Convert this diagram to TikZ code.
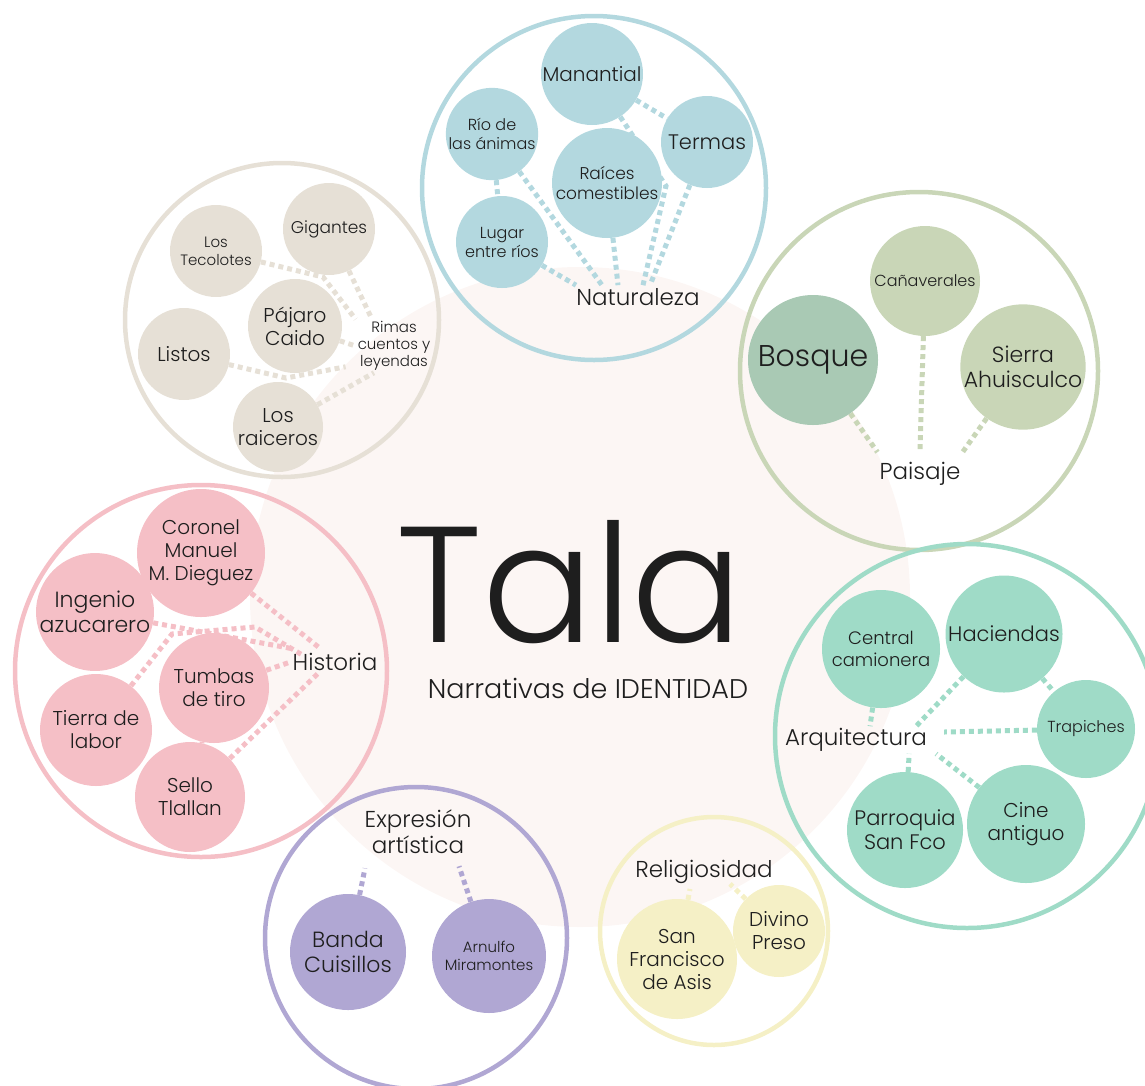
\documentclass[tikz,border=0pt]{standalone}
\usepackage{fontspec}
\setmainfont{Poppins Light}
\usetikzlibrary{calc}
\definecolor{inkcol}{HTML}{1E1E1E}
\definecolor{bgcol}{HTML}{FCF6F4}
\definecolor{natcol}{HTML}{B3D8DF}
\definecolor{rimcol}{HTML}{E6E0D6}
\definecolor{hiscol}{HTML}{F5BFC6}
\definecolor{paicol}{HTML}{C9D6B7}
\definecolor{boscol}{HTML}{A9C9B4}
\definecolor{arqcol}{HTML}{9FDBC7}
\definecolor{expcol}{HTML}{B0A7D3}
\definecolor{relcol}{HTML}{F5F0C6}
\newcommand{\fs}[2]{\fontsize{#1}{#2}\selectfont}
\pgfdeclarelayer{back}
\pgfdeclarelayer{mid}
\pgfsetlayers{back,mid,main}
\tikzset{
  every node/.style={text=inkcol},
  bubble/.style={circle, inner sep=0pt, align=center, font=\fs{20}{23}},
  ring/.style={circle, draw, line width=4.5pt, inner sep=0pt},
  link/.style={line width=5pt, dash pattern=on 5pt off 4pt},
  title/.style={align=center, inner sep=2pt, font=\fs{23}{26}},
  natnode/.style={bubble, fill=natcol}, natlink/.style={link, draw=natcol},
  rimnode/.style={bubble, fill=rimcol}, rimlink/.style={link, draw=rimcol},
  hisnode/.style={bubble, fill=hiscol}, hislink/.style={link, draw=hiscol},
  painode/.style={bubble, fill=paicol}, pailink/.style={link, draw=paicol},
  arqnode/.style={bubble, fill=arqcol}, arqlink/.style={link, draw=arqcol},
  expnode/.style={bubble, fill=expcol}, explink/.style={link, draw=expcol},
  relnode/.style={bubble, fill=relcol}, rellink/.style={link, draw=relcol}
}

\begin{document}
\begin{tikzpicture}[x=1pt,y=-1pt]
\useasboundingbox (0,0) rectangle (1145,1085);

% centre
\node[font=\fs{165}{165}, anchor=base, inner sep=0pt] (tala) at (570,642) {Tala};
\node[font=\fs{27}{30}, anchor=base, inner sep=0pt] (narr) at (588,698) {Narrativas de IDENTIDAD};

% Naturaleza
\node[natnode, minimum size=102] (mana) at (592,74) {Manantial};
\node[natnode, minimum size=92, font=\fs{16}{19}] (rio) at (492,134) {Río de\\las ánimas};
\node[natnode, minimum size=92, font=\fs{21}{24}] (term) at (707,142) {Termas};
\node[natnode, minimum size=110, font=\fs{17}{20}] (raic) at (607,183) {Raíces\\comestibles};
\node[natnode, minimum size=92, font=\fs{16}{19}] (luga) at (502,242) {Lugar\\entre ríos};
\node[title] (natu) at (638,297) {Naturaleza};

% Rimas cuentos y leyendas
\node[rimnode, minimum size=92, font=\fs{15}{18}] (teco) at (216,251) {Los\\Tecolotes};
\node[rimnode, minimum size=92, font=\fs{17}{20}] (giga) at (329,229) {Gigantes};
\node[rimnode, minimum size=94] (paja) at (295,326) {Pájaro\\Caido};
\node[rimnode, minimum size=92] (list) at (184,354) {Listos};
\node[rimnode, minimum size=90] (rais) at (278,427) {Los\\raiceros};
\node[title, font=\fs{15}{17}] (rima) at (394,346) {Rimas\\cuentos y\\leyendas};

% Historia
\node[hisnode, minimum size=128] (coro) at (201,553) {Coronel\\Manuel\\M. Dieguez};
\node[hisnode, minimum size=110, font=\fs{22}{25}] (inge) at (95,612) {Ingenio\\azucarero};
\node[hisnode, minimum size=110] (tumb) at (214,688) {Tumbas\\de tiro};
\node[hisnode, minimum size=112] (tier) at (96,730) {Tierra de\\labor};
\node[hisnode, minimum size=110] (sell) at (190,797) {Sello\\Tlallan};
\node[title] (hist) at (335,662) {Historia};

% Paisaje
\node[painode, fill=boscol, minimum size=130, font=\fs{30}{34}] (bosq) at (813,360) {Bosque};
\node[painode, minimum size=110, font=\fs{16}{19}] (cana) at (925,281) {Cañaverales};
\node[painode, minimum size=120, font=\fs{22}{25}] (sier) at (1023,367) {Sierra\\Ahuisculco};
\node[title] (pais) at (920,474) {Paisaje};

% Arquitectura
\node[arqnode, minimum size=118, font=\fs{18}{22}] (cent) at (881,649) {Central\\camionera};
\node[arqnode, minimum size=117, font=\fs{21}{24}] (haci) at (1004,634) {Haciendas};
\node[arqnode, minimum size=98, font=\fs{16}{19}] (trap) at (1086,729) {Trapiches};
\node[arqnode, minimum size=118] (cine) at (1026,824) {Cine\\antiguo};
\node[arqnode, minimum size=116, font=\fs{21}{24}] (parr) at (905,830) {Parroquia\\San Fco};
\node[title] (arqu) at (856,740) {Arquitectura};

% Expresion artistica
\node[expnode, minimum size=116, font=\fs{22}{25}] (band) at (348,952) {Banda\\Cuisillos};
\node[expnode, minimum size=114, font=\fs{15}{18}] (arnu) at (489,956) {Arnulfo\\Miramontes};
\node[title] (expr) at (418,832) {Expresión\\artística};

% Religiosidad
\node[relnode, minimum size=120] (sanf) at (677,959) {San\\Francisco\\de Asis};
\node[relnode, minimum size=92] (divi) at (779,931) {Divino\\Preso};
\node[title] (reli) at (704,872) {Religiosidad};

\begin{pgfonlayer}{back}
  \fill[bgcol] (580,597) circle (330);
  \node[ring, draw=natcol, minimum size=344] (natring) at (594,188) {};
  \node[ring, draw=rimcol, minimum size=314] (rimring) at (282,320) {};
  \node[ring, draw=hiscol, minimum size=372] (hisring) at (201,671) {};
  \node[ring, draw=paicol, minimum size=358] (pairing) at (919,371) {};
  \node[ring, draw=arqcol, minimum size=384] (arqring) at (967,736) {};
  \node[ring, draw=expcol, minimum size=302] (expring) at (416,938) {};
  \node[ring, draw=relcol, minimum size=228] (relring) at (714,931) {};
\end{pgfonlayer}

\begin{pgfonlayer}{mid}
  \draw[natlink] (luga) -- ($(natu.north)+(-62,-1)$);
  \draw[natlink] (rio) -- ($(natu.north)+(-36,-1)$);
  \draw[natlink] (raic) -- ($(natu.north)+(-20,-1)$);
  \draw[natlink] (mana) -- (666,186) -- ($(natu.north)+(5,-1)$);
  \draw[natlink] (term) -- ($(natu.north)+(12,-1)$);
  \draw[natlink] (mana) -- (term);
  \draw[natlink] (rio) -- (luga);

  \draw[rimlink] (teco) -- (323,277) -- (rima.north west);
  \draw[rimlink] (giga) -- ($(rima.north)+(-22,0)$);
  \draw[rimlink] (paja) -- (rima.west);
  \draw[rimlink] (list) -- (286,378) -- ($(rima.south west)+(-10,-6)$);
  \draw[rimlink] (rais) -- ($(rima.south)+(-20,0)$);

  \draw[hislink] (coro) -- ($(hist.north west)+(28,-4)$);
  \draw[hislink] (inge) -- ($(hist.north west)+(4,-2)$);
  \draw[hislink] (tier) -- (172,634) -- (255,627) -- ($(hist.north west)+(12,4)$);
  \draw[hislink] (tumb) -- (hist.west);
  \draw[hislink] (sell) -- ($(hist.south west)+(28,0)$);
  \draw[hislink] (tumb) -- (sell);

  \draw[pailink] (bosq) -- ($(pais.north west)+(0,-8)$);
  \draw[pailink] (cana) -- ($(pais.north)+(0,-10)$);
  \draw[pailink] (sier) -- ($(pais.north east)+(0,-8)$);

  \draw[arqlink] (cent) -- ($(arqu.north)+(14,0)$);
  \draw[arqlink] (haci) -- ($(arqu.north east)+(-13,0)$);
  \draw[arqlink] (trap) -- ($(arqu.east)+(15,-8)$);
  \draw[arqlink] (cine) -- ($(arqu.south east)+(7,0)$);
  \draw[arqlink] (parr) -- ($(arqu.south east)+(-20,0)$);
  \draw[arqlink] (haci) -- (trap);

  \draw[explink] (band) -- ($(expr.south)+(-53,12)$);
  \draw[explink] (arnu) -- ($(expr.south)+(41,10)$);

  \draw[rellink] (sanf) -- ($(reli.south)+(-14,3)$);
  \draw[rellink] (divi) -- ($(reli.south)+(26,-2)$);
\end{pgfonlayer}
\end{tikzpicture}
\end{document}
